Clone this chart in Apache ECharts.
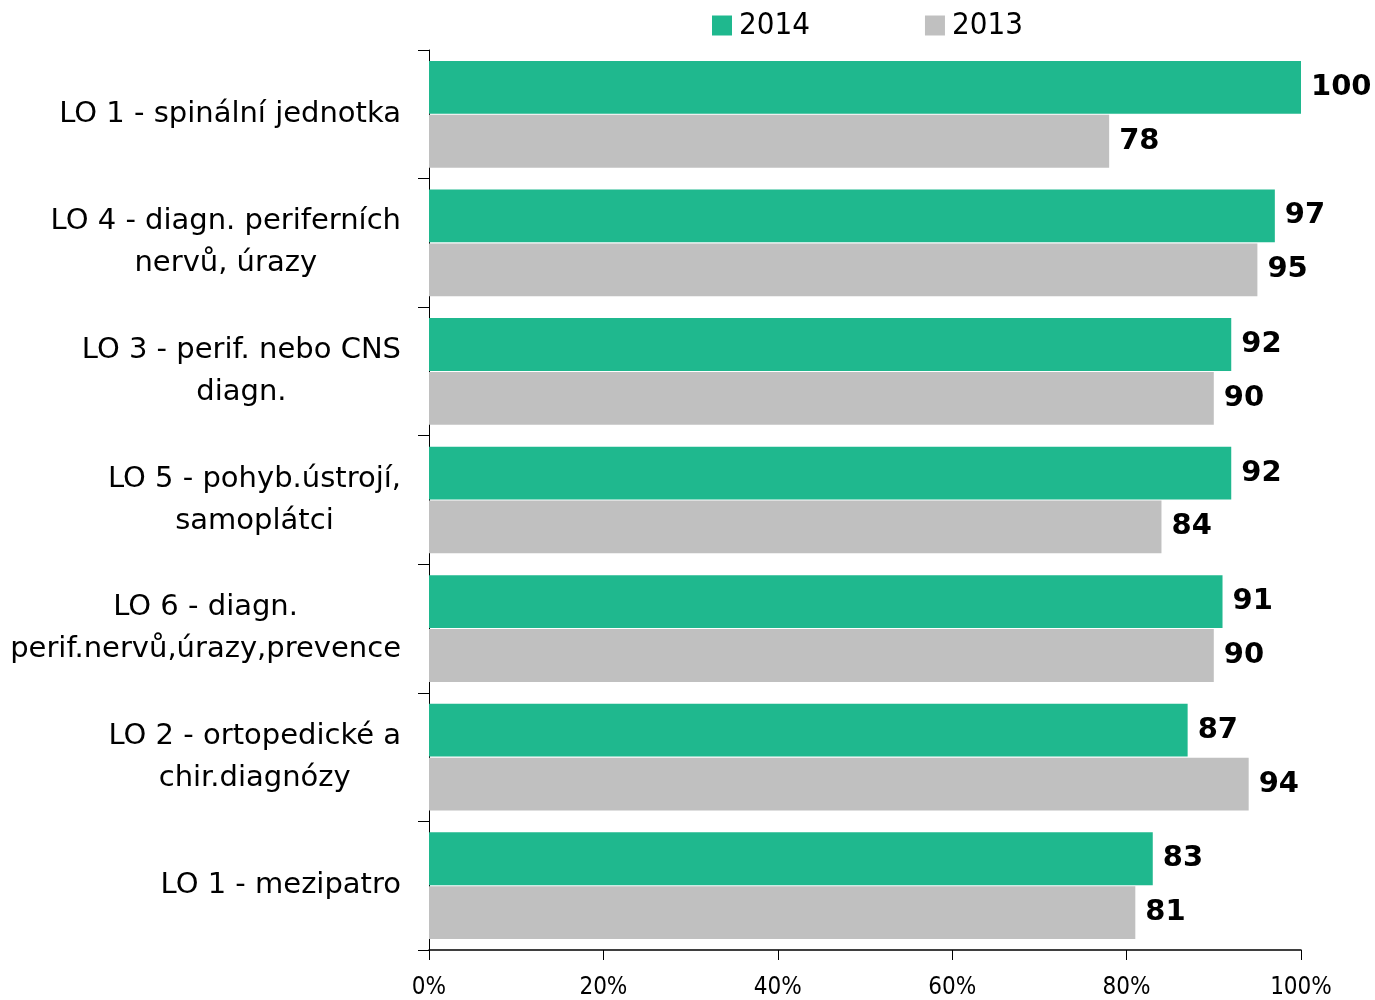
<!DOCTYPE html>
<html>
<head>
<meta charset="utf-8">
<script src="https://cdn.jsdelivr.net/npm/echarts@6/dist/echarts.min.js"></script>
<style>
  html, body { margin: 0; padding: 0; background: #ffffff; }
  #chart { width: 1375px; height: 1000px; }
</style>
</head>
<body>
<div id="chart"></div>
<script>
  // kategorie (shora dolů)
  var categories = [
    'LO 1 - spinální jednotka',
    'LO 4 - diagn. periferních\nnervů, úrazy',
    'LO 3 - perif. nebo CNS\ndiagn.',
    'LO 5 - pohyb.ústrojí,\nsamoplátci',
    'LO 6 - diagn.\nperif.nervů,úrazy,prevence',
    'LO 2 - ortopedické a\nchir.diagnózy',
    'LO 1 - mezipatro'
  ];
  var values2014 = [100, 97, 92, 92, 91, 87, 83];
  var values2013 = [78, 95, 90, 84, 90, 94, 81];
  var xTicks = [0, 20, 40, 60, 80, 100];

  var myChart = echarts.init(document.getElementById('chart'));

  var valueLabel = {
    show: true,
    position: 'right',
    distance: 10,
    color: '#000',
    fontFamily: 'DejaVu Sans',
    fontWeight: 'bold',
    fontSize: 29
  };

  var option = {
    animation: false,
    backgroundColor: '#ffffff',
    legend: {
      top: 5,
      left: 707,
      itemWidth: 20,
      itemHeight: 20,
      itemGap: 115,
      icon: 'rect',
      textStyle: { fontFamily: 'DejaVu Sans Condensed', fontSize: 31, color: '#000', padding: [0, 0, 0, 2] },
      data: ['2014', '2013']
    },
    grid: { left: 429, right: 74, top: 50, bottom: 50, containLabel: false },
    xAxis: {
      type: 'value',
      min: xTicks[0],
      max: xTicks[xTicks.length - 1],
      interval: 20,
      axisLine: { show: true, lineStyle: { color: '#000', width: 1.5 } },
      axisTick: { show: true, length: 10, lineStyle: { color: '#000' } },
      splitLine: { show: false },
      axisLabel: {
        margin: 26,
        color: '#000',
        fontFamily: 'DejaVu Sans Condensed',
        fontSize: 24,
        formatter: '{value}%'
      }
    },
    yAxis: {
      type: 'category',
      inverse: true,
      data: categories,
      axisLine: { show: true, lineStyle: { color: '#000', width: 1 } },
      axisTick: { show: true, length: 11, lineStyle: { color: '#000' } },
      axisLabel: {
        margin: 28,
        color: '#000',
        fontFamily: 'DejaVu Sans',
        fontSize: 29,
        lineHeight: 42,
        formatter: function (v) {
          return v.split('\n').map(function (l) { return '{c|' + l + '}'; }).join('\n');
        },
        rich: {
          c: { align: 'center', fontFamily: 'DejaVu Sans', fontSize: 29, lineHeight: 42, color: '#000' }
        }
      }
    },
    series: [
      {
        name: '2014',
        type: 'bar',
        data: values2014,
        barGap: '2%',
        barCategoryGap: '17%',
        itemStyle: { color: '#1fb88e' },
        label: valueLabel
      },
      {
        name: '2013',
        type: 'bar',
        data: values2013,
        itemStyle: { color: '#c0c0c0' },
        label: valueLabel
      }
    ]
  };

  myChart.setOption(option);
</script>
</body>
</html>
